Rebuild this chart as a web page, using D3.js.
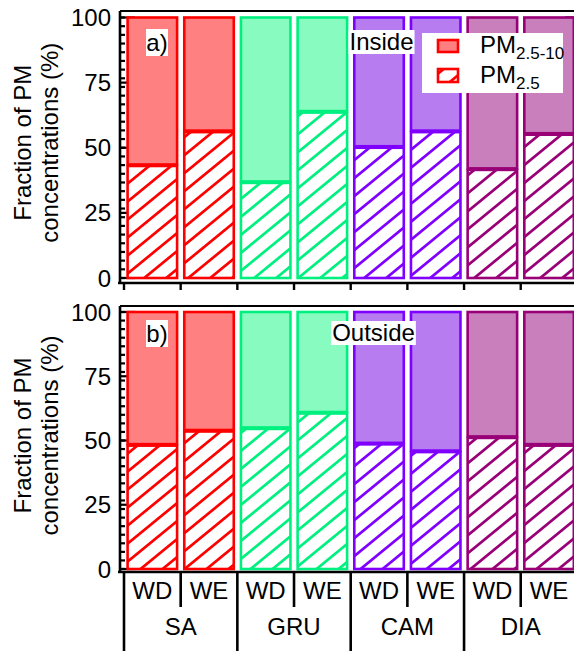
<!DOCTYPE html>
<html>
<head>
<meta charset="utf-8">
<script src="https://cdn.jsdelivr.net/npm/d3@7"></script>
<style>
  html, body { margin: 0; padding: 0; background: #fff; }
  svg { display: block; font-family: "Liberation Sans", Arial, sans-serif; }
</style>
</head>
<body>
<svg id="chart" width="574" height="651"></svg>
<script>
// ---- data -------------------------------------------------------------
const sites = ["SA", "GRU", "CAM", "DIA"];
const periods = ["WD", "WE"];
const barIds = ["SA-WD", "SA-WE", "GRU-WD", "GRU-WE", "CAM-WD", "CAM-WE", "DIA-WD", "DIA-WE"];
// PM2.5 share of total PM (%); the coarse fraction PM2.5-10 is the remainder to 100 %
const pm25Inside  = [43, 56, 36.5, 63.5, 50, 56, 41.5, 55];
const pm25Outside = [48, 53.5, 54.5, 60.5, 48.5, 45.5, 51, 48];
const yTicks = [0, 25, 50, 75, 100];

// ---- styling ----------------------------------------------------------
const strokeColors = ["#ff0000", "#00f080", "#7f00ff", "#990077"];
const fillColors   = ["#ff8080", "#88fcc0", "#b77cf0", "#c97fbb"];
const FONT = 24;
const HW = 22, HH = 18;   // hatch tile: one "/" stripe per tile

const svg = d3.select("#chart");
const defs = svg.append("defs");

sites.forEach((s, i) => {
  const p = defs.append("pattern")
    .attr("id", "hatch-" + s)
    .attr("patternUnits", "userSpaceOnUse")
    .attr("width", HW).attr("height", HH);
  p.append("rect").attr("width", HW).attr("height", HH).attr("fill", "#fff");
  // main diagonal plus its neighbours so the stroke is continuous across tiles
  const d = [-HW, 0, HW].map(s => `M${-HW + s},${2 * HH}L${2 * HW + s},${-HH}`).join("");
  p.append("path")
    .attr("d", d)
    .attr("stroke", strokeColors[i])
    .attr("stroke-width", 2.7);
});

const x = d3.scaleBand().domain(barIds).range([124, 577.4]);
const bw = x.bandwidth();
const barW = 49.5;
const axisX = 120, rightX = 580;

const panels = [
  { values: pm25Inside,  tag: "a)", place: "Inside",  frameTop: 11,  y0: 278, y100: 17.5, axisY: 283, legend: true },
  { values: pm25Outside, tag: "b)", place: "Outside", frameTop: 306, y0: 569, y100: 312,  axisY: 572, legend: false }
];

panels.forEach((P, pi) => {
  const y = d3.scaleLinear().domain([0, 100]).range([P.y0, P.y100]);
  const g = svg.append("g");

  // major ticks (inward) sit underneath the bars
  const majors = g.append("g").attr("stroke", "#000").attr("stroke-width", 2.2);
  yTicks.forEach(t => {
    majors.append("line").attr("x1", axisX).attr("x2", axisX + 15).attr("y1", y(t)).attr("y2", y(t));
    majors.append("line").attr("x1", rightX - 15).attr("x2", rightX).attr("y1", y(t)).attr("y2", y(t));
  });

  // stacked bars
  barIds.forEach((id, i) => {
    const si = Math.floor(i / 2);
    const fine = P.values[i];
    const coarse = 100 - fine;
    const bx = x(id) + (bw - barW) / 2;
    // PM2.5 (hatched)
    g.append("rect")
      .attr("x", bx).attr("width", barW)
      .attr("y", y(fine)).attr("height", y(0) - y(fine))
      .attr("fill", "url(#hatch-" + sites[si] + ")")
      .attr("stroke", strokeColors[si]).attr("stroke-width", 2.6);
    // PM2.5-10 (solid) stacked on top
    g.append("rect")
      .attr("x", bx).attr("width", barW)
      .attr("y", y(fine + coarse)).attr("height", y(fine) - y(fine + coarse) - 1.5)
      .attr("fill", fillColors[si])
      .attr("stroke", strokeColors[si]).attr("stroke-width", 2.6);
  });

  // frame and axes
  const ax = g.append("g").attr("stroke", "#000").attr("fill", "none");
  ax.append("line").attr("x1", axisX).attr("x2", axisX).attr("y1", P.frameTop).attr("y2", P.axisY).attr("stroke-width", 2.6);
  ax.append("line").attr("x1", axisX).attr("x2", rightX).attr("y1", P.frameTop).attr("y2", P.frameTop).attr("stroke-width", 2.2);
  ax.append("line").attr("x1", rightX).attr("x2", rightX).attr("y1", P.frameTop).attr("y2", P.axisY).attr("stroke-width", 2.6);
  ax.append("line").attr("x1", axisX - 2).attr("x2", rightX).attr("y1", P.axisY).attr("y2", P.axisY).attr("stroke-width", 2.6);

  // minor ticks along the value axis
  const minors = d3.range(0, 100.001, 100 / 30);
  minors.forEach(t => {
    ax.append("line").attr("x1", axisX).attr("x2", axisX + 5).attr("y1", y(t)).attr("y2", y(t)).attr("stroke-width", 2.2);
  });

  // tick labels
  g.append("g").selectAll("text").data(yTicks).join("text")
    .attr("x", 111).attr("y", d => y(d) + 8.5)
    .attr("text-anchor", "end")
    .attr("font-size", FONT)
    .text(d => d);

  // y-axis title
  const cy = (P.y0 + P.y100) / 2 - 5;
  const title = g.append("text")
    .attr("transform", `translate(0,${cy}) rotate(-90)`)
    .attr("text-anchor", "middle")
    .attr("font-size", FONT);
  title.append("tspan").attr("x", 0).attr("y", 31).text("Fraction of PM");
  title.append("tspan").attr("x", 0).attr("y", 58).text("concentrations (%)");

  // band boundaries
  const bounds = barIds.map(id => x(id)).concat([x.range()[1]]);
  if (pi === 0) {
    bounds.forEach(b => {
      ax.append("line").attr("x1", b).attr("x2", b).attr("y1", P.axisY).attr("y2", P.axisY + 7).attr("stroke-width", 2.4);
    });
  } else {
    bounds.forEach((b, k) => {
      ax.append("line").attr("x1", b).attr("x2", b)
        .attr("y1", P.axisY).attr("y2", k % 2 === 0 ? 651 : 607)
        .attr("stroke-width", 2.6);
    });
    // period labels
    g.append("g").selectAll("text").data(barIds).join("text")
      .attr("x", d => x(d) + bw / 2).attr("y", 599)
      .attr("text-anchor", "middle").attr("font-size", FONT)
      .text((d, i) => periods[i % 2]);
    // site labels
    g.append("g").selectAll("text").data(sites).join("text")
      .attr("x", (d, i) => x(barIds[i * 2]) + bw)
      .attr("y", 635)
      .attr("text-anchor", "middle").attr("font-size", FONT)
      .text(d => d);
  }

  // panel tag and place label on white boxes
  const tagY = P.frameTop + (pi === 0 ? 40 : 36);
  g.append("rect").attr("x", 146).attr("y", tagY - 22).attr("width", 22).attr("height", 27).attr("fill", "#fff");
  g.append("text").attr("x", 157).attr("y", tagY).attr("text-anchor", "middle").attr("font-size", FONT).text(P.tag);

  const placeX = pi === 0 ? 381.5 : 373.5;
  const placeY = P.frameTop + (pi === 0 ? 39 : 35);
  const boxG = g.append("g");
  const pt = g.append("text").attr("x", placeX).attr("y", placeY).attr("text-anchor", "middle").attr("font-size", FONT).text(P.place);
  const bb = pt.node().getBBox();
  boxG.append("rect")
    .attr("x", bb.x - 1).attr("y", bb.y + 2).attr("width", bb.width + 2).attr("height", bb.height - 3)
    .attr("fill", "#fff");

  if (P.legend) {
    const lg = g.append("g");
    lg.append("rect").attr("x", 422).attr("y", 33).attr("width", 141).attr("height", 60).attr("fill", "#fff");
    lg.append("rect").attr("x", 438).attr("y", 40).attr("width", 20).attr("height", 12)
      .attr("fill", fillColors[0]).attr("stroke", strokeColors[0]).attr("stroke-width", 2.6);
    lg.append("rect").attr("x", 438).attr("y", 69).attr("width", 20).attr("height", 13)
      .attr("fill", "url(#hatch-SA)").attr("stroke", strokeColors[0]).attr("stroke-width", 2.6);
    const t1 = lg.append("text").attr("x", 480).attr("y", 53).attr("font-size", FONT);
    t1.append("tspan").text("PM");
    t1.append("tspan").attr("font-size", 17).attr("dy", 6).text("2.5-10");
    const t2 = lg.append("text").attr("x", 480).attr("y", 83).attr("font-size", FONT);
    t2.append("tspan").text("PM");
    t2.append("tspan").attr("font-size", 17).attr("dy", 6).text("2.5");
  }
});
</script>
</body>
</html>
